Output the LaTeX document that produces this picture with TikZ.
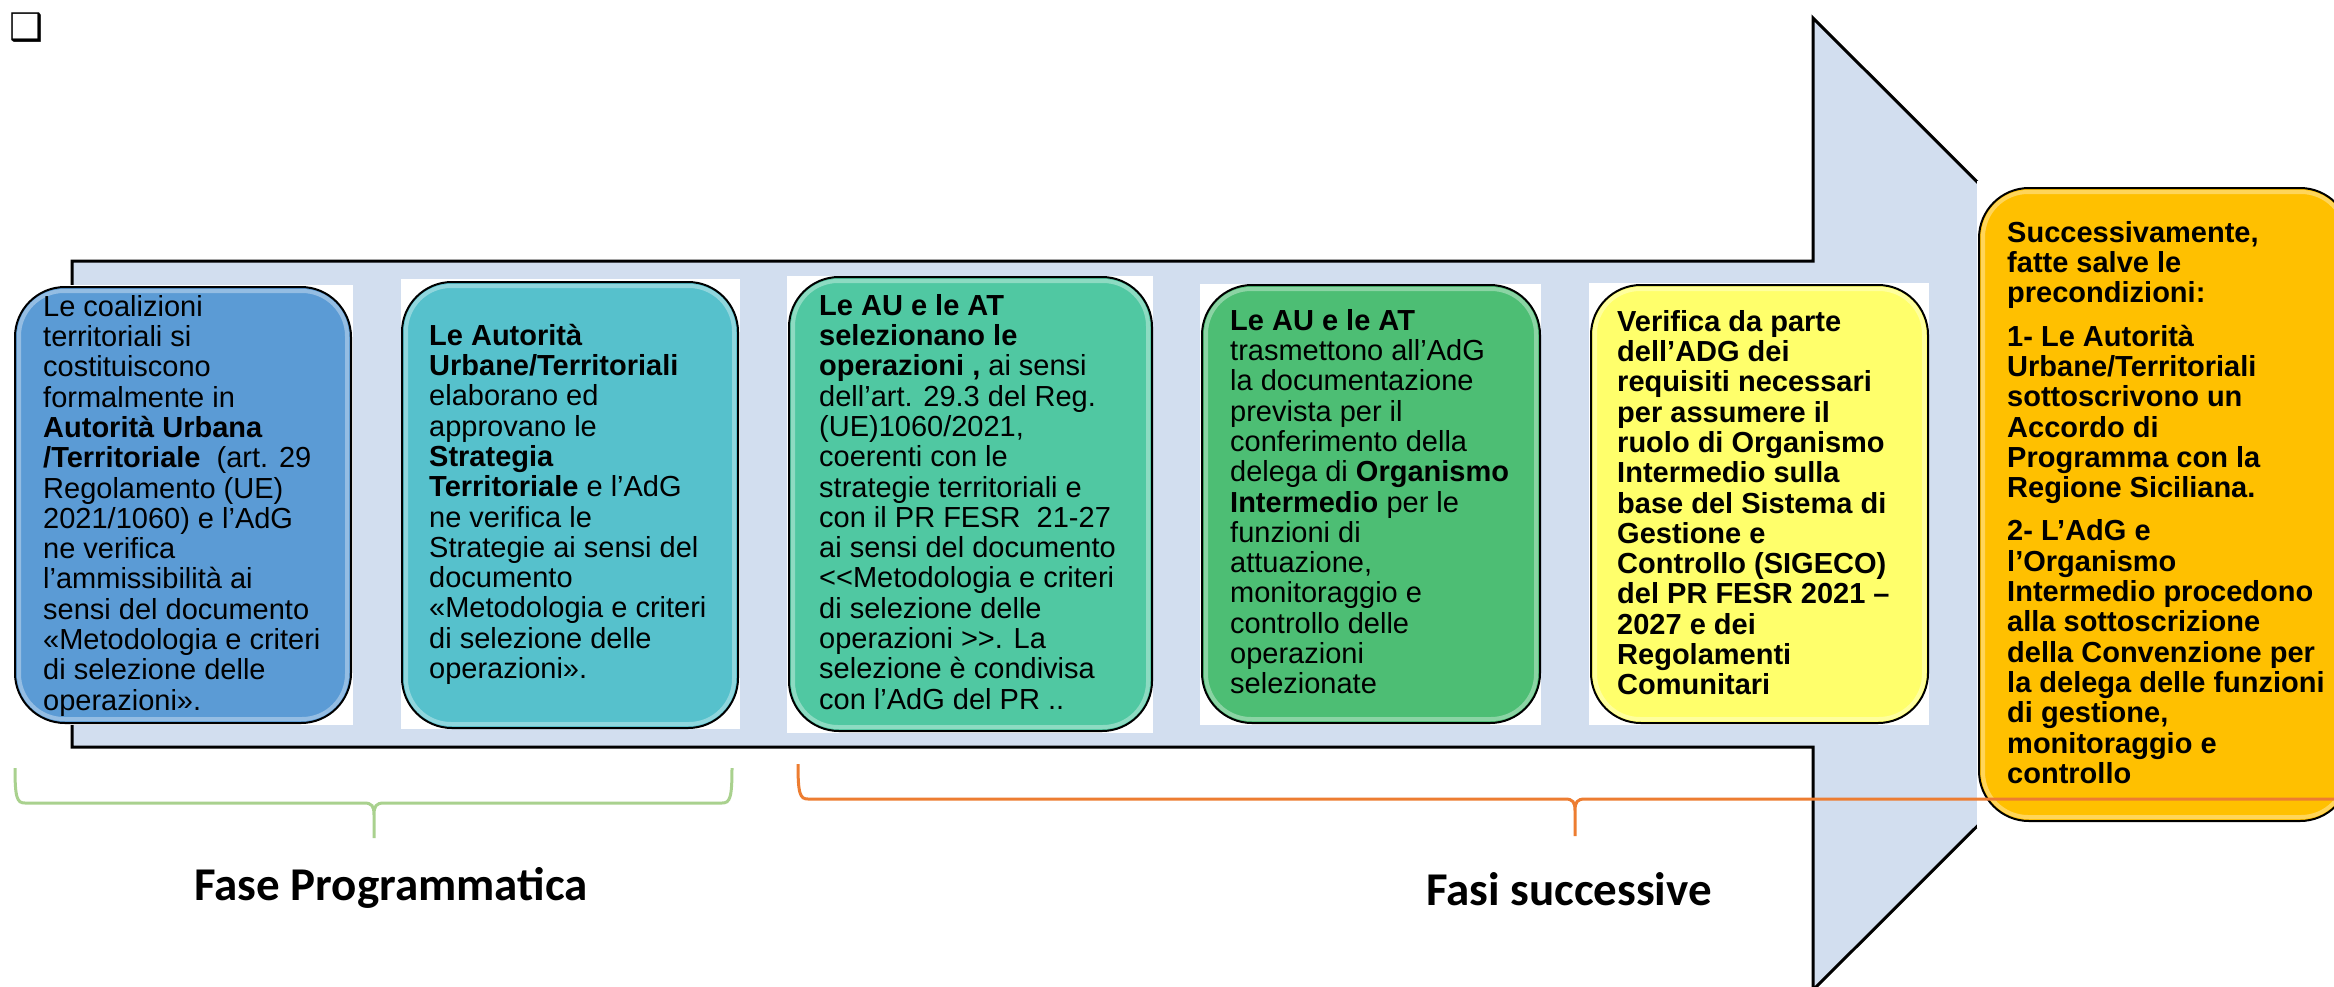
\documentclass[tikz,border=0pt]{standalone}
\usepackage{fontspec}
\setmainfont{Liberation Sans}
\newfontfamily\labelfont{Carlito}
\newfontfamily\symbfont{DejaVu Sans}
\usepackage{tikz}

\definecolor{arrowblue}{HTML}{D2DEEF}
\definecolor{boxblue}{HTML}{5B9BD5}
\definecolor{boxteal}{HTML}{56C1CC}
\definecolor{boxaqua}{HTML}{50C8A2}
\definecolor{boxgreen}{HTML}{4DBE74}
\definecolor{boxyellow}{HTML}{FFFF6B}
\definecolor{boxorange}{HTML}{FFC000}
\definecolor{bracegreen}{HTML}{A9D18E}
\definecolor{braceorange}{HTML}{ED7D31}

\newcommand{\fst}{\rule{0pt}{22pt}}

\begin{document}
\begin{tikzpicture}[x=1pt,y=1pt,
  box/.style={draw=black, line width=2pt, rounded corners=50pt, inner sep=0pt},
  gloss/.style={draw=white, draw opacity=.35, line width=4pt, rounded corners=45pt},
  txt/.style={anchor=north west, inner sep=0pt, align=left, font=\fontsize{29}{30.3}\selectfont},
  phase/.style={anchor=base, inner sep=0pt, font=\labelfont\bfseries\fontsize{47}{47}\selectfont}]
\useasboundingbox (0,0) rectangle (2334,-986);
\clip (0,0) rectangle (2334,-986);
\fill[white] (0,0) rectangle (2334,-986);

\node[inner sep=0pt, font=\symbfont\bfseries\fontsize{38}{38}\selectfont] (bullet) at (27,-28) {❑};

% freccia
\draw[fill=arrowblue, line width=3pt, line join=miter] (72,-261) -- (1813,-261) -- (1813,-18) -- (2300,-504) -- (1813,-990) -- (1813,-747) -- (72,-747) -- cycle;

% sfondi bianchi
\fill[white] (13,-285) rectangle (353,-725);
\fill[white] (401,-279) rectangle (740,-729);
\fill[white] (787,-276) rectangle (1153,-733);
\fill[white] (1200,-284) rectangle (1541,-725);
\fill[white] (1589,-283) rectangle (1929,-725);
\fill[white] (1977,-181) rectangle (2340,-828);

% riquadri
\node[box, fill=boxblue, minimum width=336pt, minimum height=436pt] (b1) at (183,-505) {};
\node[box, fill=boxteal, minimum width=336pt, minimum height=446pt] (b2) at (570,-505) {};
\node[box, fill=boxaqua, minimum width=363pt, minimum height=454pt] (b3) at (970.5,-504) {};
\node[box, fill=boxgreen, minimum width=338pt, minimum height=438pt] (b4) at (1371,-504) {};
\node[box, fill=boxyellow, minimum width=337pt, minimum height=438pt] (b5) at (1759.5,-504) {};
\node[box, fill=boxorange, minimum width=371pt, minimum height=633pt] (b6) at (2164.5,-504.5) {};
\draw[gloss] ([shift={(5,-5)}]b1.north west) rectangle ([shift={(-5,5)}]b1.south east);
\draw[gloss] ([shift={(5,-5)}]b2.north west) rectangle ([shift={(-5,5)}]b2.south east);
\draw[gloss] ([shift={(5,-5)}]b3.north west) rectangle ([shift={(-5,5)}]b3.south east);
\draw[gloss] ([shift={(5,-5)}]b4.north west) rectangle ([shift={(-5,5)}]b4.south east);
\draw[gloss] ([shift={(5,-5)}]b5.north west) rectangle ([shift={(-5,5)}]b5.south east);
\draw[gloss] ([shift={(5,-5)}]b6.north west) rectangle ([shift={(-5,5)}]b6.south east);

% testi
\node[txt] (t1) at (43,-294) {\fst Le coalizioni\\territoriali si\\costituiscono\\formalmente in\\
\textbf{Autorità Urbana}\\\textbf{/Territoriale}\ \ (art. 29\\Regolamento (UE)\\2021/1060) e l’AdG\\
ne verifica\\l’ammissibilità ai\\sensi del documento\\«Metodologia e criteri\\di selezione delle\\operazioni».};
\node[txt] (t2) at (429,-323) {\fst\textbf{Le Autorità}\\\textbf{Urbane/Territoriali}\\elaborano ed\\approvano le\\
\textbf{Strategia}\\\textbf{Territoriale} e l’AdG\\ne verifica le\\Strategie ai sensi del\\documento\\
«Metodologia e criteri\\di selezione delle\\operazioni».};
\node[txt] (t3) at (819,-293) {\fst\textbf{Le AU e le AT}\\\textbf{selezionano le}\\\textbf{operazioni ,} ai sensi\\
dell’art. 29.3 del Reg.\\(UE)1060/2021,\\coerenti con le\\strategie territoriali e\\con il PR FESR\ \ 21-27\\
ai sensi del documento\\<\kern0pt<Metodologia e criteri\\di selezione delle\\operazioni >\kern0pt>. La\\
selezione è condivisa\\con l’AdG del PR ..};
\node[txt] (t4) at (1230,-308) {\fst\textbf{Le AU e le AT}\\trasmettono all’AdG\\la documentazione\\prevista per il\\
conferimento della\\delega di \textbf{Organismo}\\\textbf{Intermedio} per le\\funzioni di\\attuazione,\\
monitoraggio e\\controllo delle\\operazioni\\selezionate};
\node[txt, font=\bfseries\fontsize{29}{30.3}\selectfont] (t5) at (1617,-309) {\fst Verifica da parte\\dell’ADG dei\\
requisiti necessari\\per assumere il\\ruolo di Organismo\\Intermedio sulla\\base del Sistema di\\
Gestione e\\Controllo (SIGECO)\\del PR FESR 2021 –\\2027 e dei\\Regolamenti\\Comunitari};
\node[txt, font=\bfseries\fontsize{29}{30.3}\selectfont] (t6) at (2007,-220) {\fst Successivamente,\\fatte salve le\\
precondizioni:\\[13pt]1- Le Autorità\\Urbane/Territoriali\\sottoscrivono un\\Accordo di\\Programma con la\\
Regione Siciliana.\\[13pt]2- L’AdG e\\l’Organismo\\Intermedio procedono\\alla sottoscrizione\\
della Convenzione per\\la delega delle funzioni\\di gestione,\\monitoraggio e\\controllo};

% graffe
\draw[draw=bracegreen, line width=3pt] (15,-768) .. controls (15,-798) and (17,-803) .. (25,-803) -- (364,-803)
  .. controls (372,-803) and (374,-806) .. (374,-815) -- (374,-838) -- (374,-815)
  .. controls (374,-806) and (376,-803) .. (384,-803) -- (722,-803) .. controls (730,-803) and (732,-798) .. (732,-768);
\draw[draw=braceorange, line width=3pt] (798,-764) .. controls (798,-794) and (800,-799) .. (808,-799) -- (1565,-799)
  .. controls (1573,-799) and (1575,-802) .. (1575,-811) -- (1575,-836) -- (1575,-811)
  .. controls (1575,-802) and (1577,-799) .. (1585,-799) -- (2342,-799) .. controls (2350,-799) and (2352,-794) .. (2352,-764);

\node[phase] (fp) at (391,-900) {Fase Programmatica};
\node[phase] (fs) at (1569,-905) {Fasi successive};
\end{tikzpicture}
\end{document}
